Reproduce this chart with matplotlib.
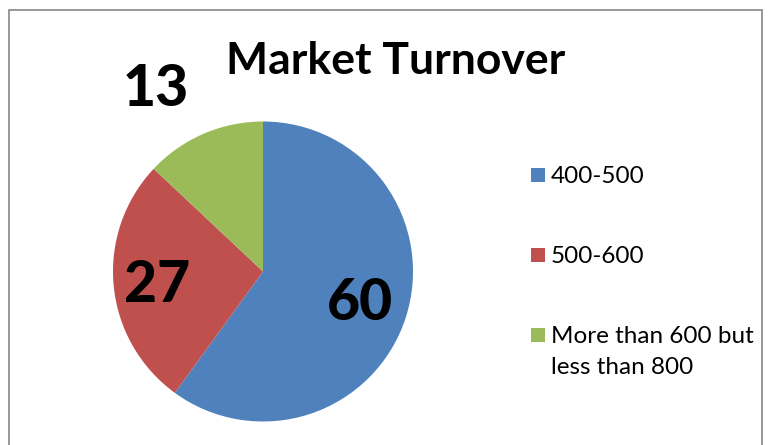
import numpy as np
import matplotlib.pyplot as plt
from matplotlib.patches import Rectangle

# Chart data
labels = ['400-500', '500-600', 'More than 600 but\nless than 800']
values = [60, 27, 13]
colors = ['#4F81BD', '#C0504D', '#9BBB59']
title = 'Market Turnover'

plt.rcParams['font.family'] = ['Lato', 'DejaVu Sans']

W, H = 770, 445
fig = plt.figure(figsize=(W / 100, H / 100), dpi=100)

# Outer chart border (Excel-style)
fig.patches.append(Rectangle((9 / W, -0.05), 753 / W, 1 - 10 / H + 0.05,
                             transform=fig.transFigure, fill=False,
                             edgecolor='#868686', linewidth=1.2))

# Pie axes: centre (263, 271.5) px, radius 150 px
ax = fig.add_axes([113 / W, 1 - 421.5 / H, 300 / W, 300 / H])
wedges, _ = ax.pie(values, colors=colors, startangle=90, counterclock=False,
                   radius=1, wedgeprops=dict(linewidth=0))
ax.set_xlim(-1, 1)
ax.set_ylim(-1, 1)
ax.set_aspect('equal')
ax.axis('off')

# Data labels, placed along each wedge's mid angle
dist = [0.68, 0.71, 1.41]
shift = [0, 2, 7]
for w, v, d, s in zip(wedges, values, dist, shift):
    ang = np.deg2rad((w.theta1 + w.theta2) / 2 + s)
    ax.text(d * np.cos(ang), d * np.sin(ang), str(v), ha='center', va='center',
            fontsize=41, fontweight='black', color='black', clip_on=False)

fig.text(396 / W, 1 - 61 / H, title, ha='center', va='center',
         fontsize=32, fontweight='bold')

# Legend
ys = [175, 255, 335]
for lab, c, y in zip(labels, colors, ys):
    fig.patches.append(Rectangle((531 / W, 1 - (y + 7) / H), 14 / W, 14 / H,
                                 transform=fig.transFigure, facecolor=c,
                                 edgecolor='none'))
    fig.text(551 / W, 1 - (y - 9) / H, lab, ha='left', va='top',
             fontsize=17.5, linespacing=1.6)

fig.savefig('out.png', dpi=100)
